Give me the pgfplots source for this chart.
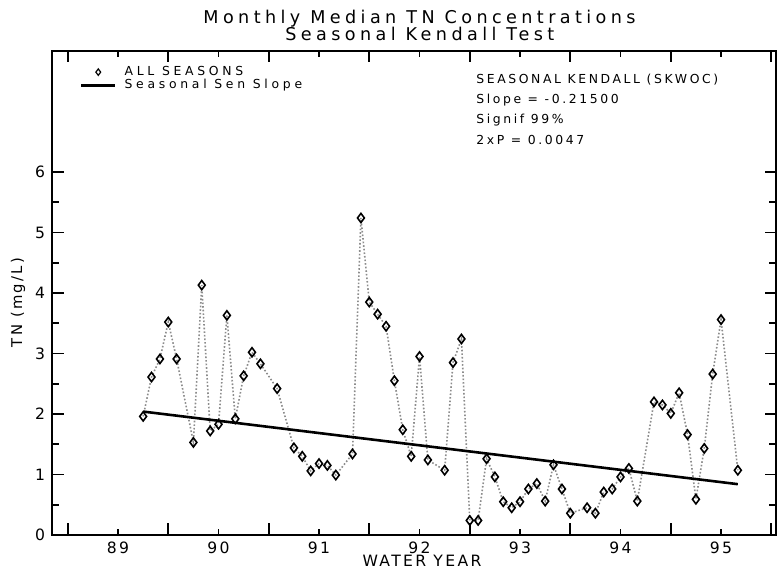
\documentclass[border=0pt]{standalone}
\usepackage{fontspec}
\setmainfont{DejaVu Sans}
\newfontfamily\titlefont[LetterSpace=25]{DejaVu Sans}
\newfontfamily\labfont[LetterSpace=15]{DejaVu Sans}
\newfontfamily\annfont[LetterSpace=21]{DejaVu Sans}
\newfontfamily\legfont[LetterSpace=30]{DejaVu Sans}
\usepackage{pgfplots}
\pgfplotsset{compat=1.18}
\usetikzlibrary{calc}

\begin{document}
\begin{tikzpicture}
\begin{axis}[name=ax, scale only axis, width=362pt, height=242pt,
  xmin=88.343, xmax=95.547, ymin=0, ymax=8, clip=false,
  axis line style={line width=1pt},
  xtick={88.5,89.5,...,95.5}, xticklabels={{},{},{},{},{},{},{},{}},
  extra x ticks={89,90,91,92,93,94,95},
  extra x tick labels={89,90,91,92,93,94,95},
  extra x tick style={major tick length=3pt},
  ytick={0,1,2,3,4,5,6}, minor ytick={0.5,1.5,2.5,3.5,4.5,5.5},
  major tick length=5.75pt, minor tick length=3.5pt,
  tick align=inside,
  tick style={black, line width=0.8pt},
  ticklabel style={font=\labfont\fontsize{7.8}{8}\selectfont},
  /pgf/number format/assume math mode=true,
  xlabel={WATER YEAR},
  xlabel style={at={(axis description cs:0.511,-0.054)}, anchor=center,
    font=\labfont\fontsize{7.8}{8}\selectfont},
  ylabel={TN (mg/L)},
  ylabel style={at={(axis description cs:-0.047,0.48)}, anchor=center,
    font=\labfont\fontsize{7.4}{8}\selectfont},
  legend style={at={(axis description cs:0.038,0.978)}, anchor=north west,
    draw=none, fill=none, inner sep=0pt, row sep=-3.5pt,
    /tikz/every odd column/.append style={column sep=2pt},
    font=\legfont\fontsize{6.2}{7}\selectfont},
  legend cell align=left,
]
% monthly medians, dotted line skips missing months
\addplot[gray!90, densely dotted, line width=0.8pt, mark=diamond, mark size=2.3pt,
  mark options={solid, black, line width=0.8pt, fill=white}, forget plot]
coordinates {
(89.250,1.96) (89.333,2.61) (89.417,2.91) (89.500,3.52) (89.583,2.91)
(89.750,1.53) (89.833,4.13) (89.917,1.72) (90.000,1.83) (90.083,3.63)
(90.167,1.92) (90.250,2.63) (90.333,3.02) (90.417,2.83) (90.583,2.42)
(90.750,1.44) (90.833,1.30) (90.917,1.06) (91.000,1.18) (91.083,1.15)
(91.167,0.99) (91.333,1.34) (91.417,5.24) (91.500,3.85) (91.583,3.65)
(91.667,3.45) (91.750,2.55) (91.833,1.74) (91.917,1.30) (92.000,2.95)
(92.083,1.24) (92.250,1.07) (92.333,2.85) (92.417,3.24) (92.500,0.24)
(92.583,0.24) (92.667,1.26) (92.750,0.96) (92.833,0.55) (92.917,0.45)
(93.000,0.55) (93.083,0.76) (93.167,0.85) (93.250,0.56) (93.333,1.16)
(93.417,0.76) (93.500,0.36) (93.667,0.45) (93.750,0.36) (93.833,0.71)
(93.917,0.76) (94.000,0.96) (94.083,1.10) (94.167,0.56) (94.333,2.20)
(94.417,2.15) (94.500,2.01) (94.583,2.35) (94.667,1.66) (94.750,0.59)
(94.833,1.43) (94.917,2.66) (95.000,3.56) (95.167,1.07)
};
\addlegendimage{only marks, mark=diamond, mark size=1.6pt,
  mark options={black, line width=0.6pt}}
\addlegendentry{ALL SEASONS}
\addplot[black, line width=1.3pt] coordinates {(89.25,2.04) (95.167,0.84)};
\addlegendentry{Seasonal Sen Slope}

\node[font=\titlefont\fontsize{8.8}{9.5}\selectfont, anchor=base]
  at (axis description cs:0.5076,1.0558) {Monthly Median TN Concentrations};
\node[font=\titlefont\fontsize{8.8}{9.5}\selectfont, anchor=base]
  at (axis description cs:0.508,1.0207) {Seasonal Kendall Test};

\node[font=\annfont\fontsize{6.2}{7}\selectfont, anchor=base west, inner sep=0pt]
  at (axis description cs:0.5856,0.9333) {SEASONAL KENDALL (SKWOC)};
\node[font=\annfont\fontsize{6.2}{7}\selectfont, anchor=base west, inner sep=0pt]
  at (axis description cs:0.5856,0.8914) {Slope = -0.21500};
\node[font=\annfont\fontsize{6.2}{7}\selectfont, anchor=base west, inner sep=0pt]
  at (axis description cs:0.5856,0.8495) {Signif 99\%};
\node[font=\annfont\fontsize{6.2}{7}\selectfont, anchor=base west, inner sep=0pt]
  at (axis description cs:0.5856,0.8076) {2xP = 0.0047};
\end{axis}
\pgfresetboundingbox
\path[use as bounding box] ($(ax.south west)+(-26pt,-17.5pt)$) rectangle ($(ax.north east)+(0.5pt,25.5pt)$);
\end{tikzpicture}
\end{document}
